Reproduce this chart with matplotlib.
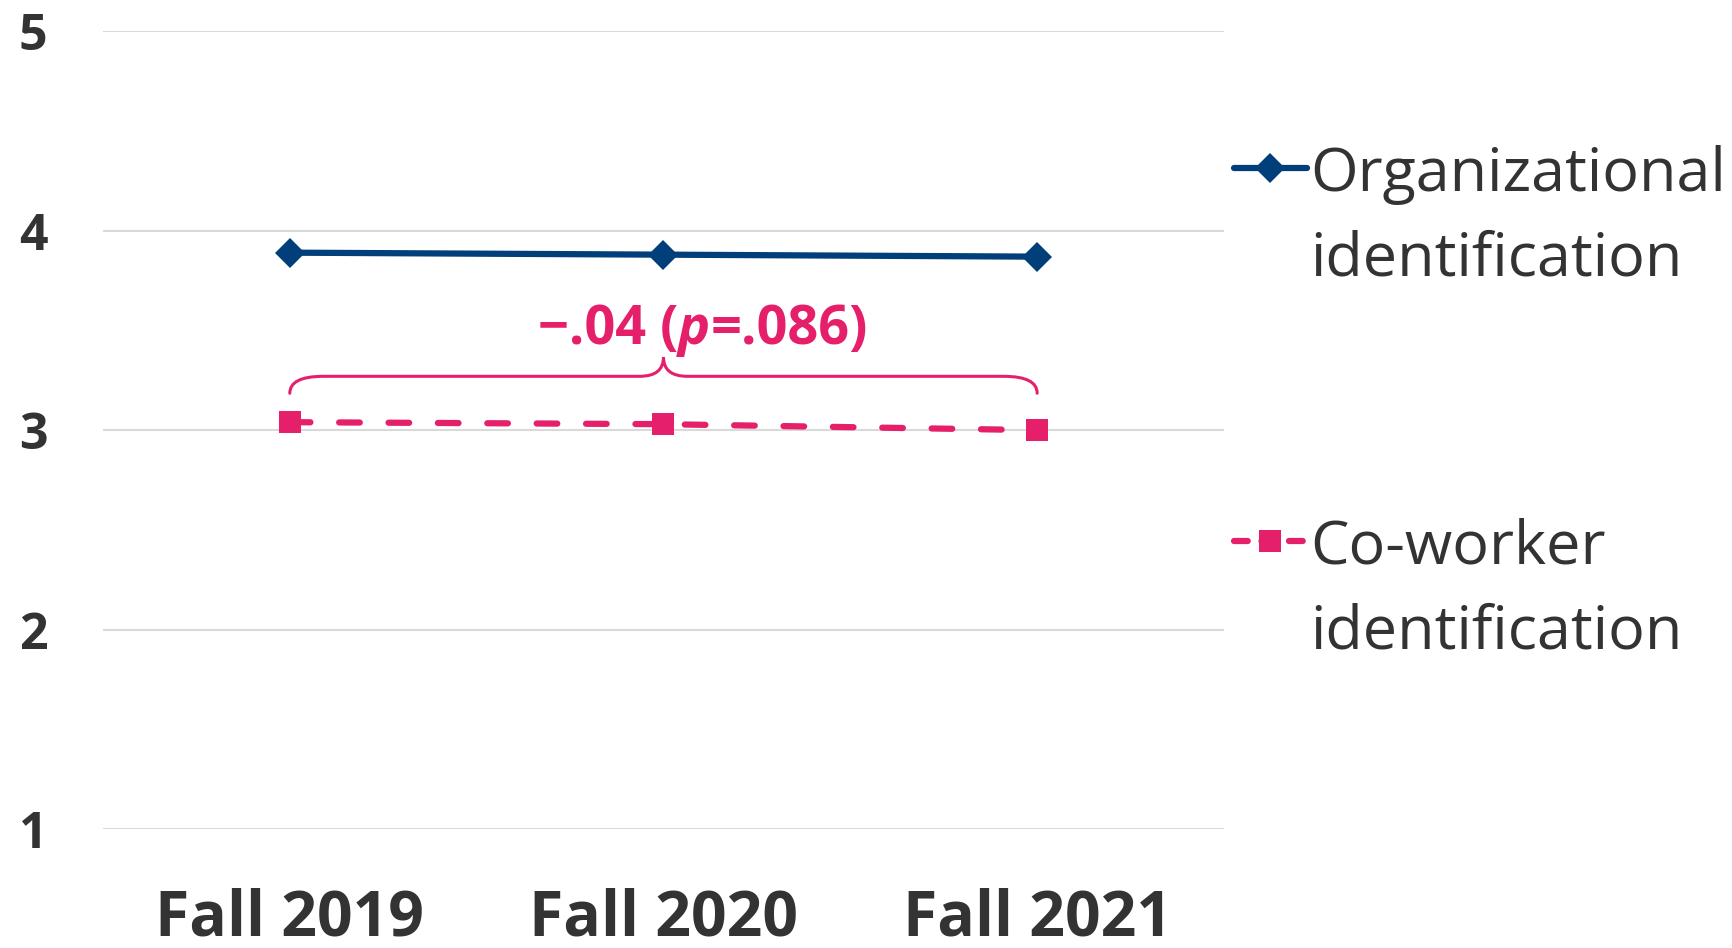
import matplotlib.pyplot as plt
from matplotlib.path import Path
from matplotlib.patches import PathPatch
from matplotlib.lines import Line2D

plt.rcParams['font.family'] = ['Open Sans', 'DejaVu Sans']

periods = ["Fall 2019", "Fall 2020", "Fall 2021"]
org_ident = [3.89, 3.88, 3.87]
cow_ident = [3.04, 3.03, 3.00]
series_names = ["Organizational\nidentification", "Co-worker\nidentification"]
change_label = ["\u2212.04 (", "p", "=.086)"]

navy = "#003F7A"
pink = "#E61F6A"
txt = "#333333"

fig = plt.figure(figsize=(17.33, 9.48), dpi=100)
ax = fig.add_axes([0.0594, 0.1255, 0.6469, 0.8415])

x = list(range(len(periods)))
ax.plot(x, org_ident, color=navy, lw=4.5, marker='D', ms=15, mew=0,
        solid_capstyle='round')
ax.plot(x, cow_ident, color=pink, lw=4.5, marker='s', ms=16, mew=0,
        linestyle=(0, (3.3, 4.6)), dash_capstyle='round')

ax.set_xlim(-0.5, len(periods) - 0.5)
ax.set_ylim(1, 5)
ax.set_yticks([1, 2, 3, 4, 5])
ax.set_xticks(x)
ax.set_xticklabels(periods)
for s in ax.spines.values():
    s.set_visible(False)
ax.grid(axis='y', color='#D9D9D9', lw=1.5)
ax.set_axisbelow(True)
ax.tick_params(axis='both', length=0)
ax.tick_params(axis='x', labelsize=45, pad=42, labelcolor=txt)
ax.tick_params(axis='y', labelsize=36, pad=40, labelcolor=txt)
for lab in ax.get_xticklabels() + ax.get_yticklabels():
    lab.set_fontweight('bold')

# brace over the co-worker line
x0, x1 = x[0], x[-1]
xm = (x0 + x1) / 2
yb, yh, yt = 3.185, 3.27, 3.366
rx, rm = 0.09, 0.064
verts = [(x0, yb), (x0, yh), (x0 + rx, yh),
         (xm - rm, yh),
         (xm, yh), (xm, yt),
         (xm, yh), (xm + rm, yh),
         (x1 - rx, yh),
         (x1, yh), (x1, yb)]
codes = [Path.MOVETO, Path.CURVE3, Path.CURVE3,
         Path.LINETO,
         Path.CURVE3, Path.CURVE3,
         Path.CURVE3, Path.CURVE3,
         Path.LINETO,
         Path.CURVE3, Path.CURVE3]
ax.add_patch(PathPatch(Path(verts, codes), fill=False, edgecolor=pink,
                       lw=2.2, capstyle='round'))

fs = 39
t1 = ax.text(0.664, 3.43, change_label[0], color=pink, fontsize=fs,
             fontweight='bold', ha='left', va='baseline')
t2 = ax.annotate(change_label[1], xy=(1, 0), xycoords=t1, color=pink,
                 fontsize=fs, fontweight='bold', style='italic',
                 ha='left', va='bottom')
t3 = ax.annotate(change_label[2], xy=(1, 0), xycoords=t2, color=pink,
                 fontsize=fs, fontweight='bold', ha='left', va='bottom')

# legend drawn by hand so the handle sits on the first line
W, H = 1733, 948
leg = [(series_names[0], navy, 'D', 15, '-', 168),
       (series_names[1], pink, 's', 16, (0, (2.2, 2.2)), 541)]
for name, col, mk, ms, ls, ypx in leg:
    yf = 1 - ypx / H
    fig.add_artist(Line2D([1234 / W, 1307 / W], [yf, yf], color=col, lw=4.5,
                          linestyle=ls, solid_capstyle='round',
                          dash_capstyle='round'))
    fig.add_artist(Line2D([1270 / W], [yf], color=col, marker=mk, ms=ms,
                          mew=0))
    fig.text(1310 / W, yf + 23 / H, name, color=txt, fontsize=44, ha='left',
             va='top', linespacing=1.53)

fig.savefig("out.png", dpi=100)
